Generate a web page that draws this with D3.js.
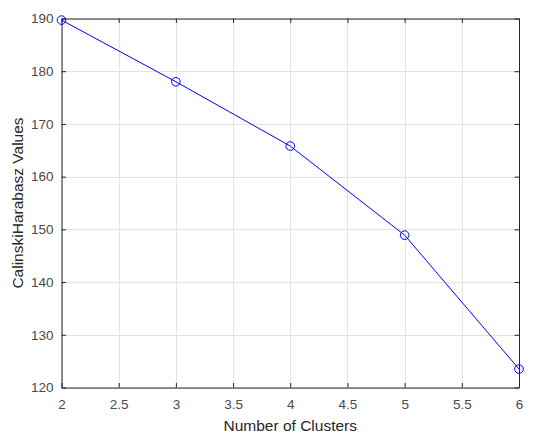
<!DOCTYPE html>
<html><head><meta charset="utf-8">
<script src="https://cdn.jsdelivr.net/npm/d3@7"></script>
<style>body{margin:0;background:#fff;}svg{display:block;font-family:"Liberation Sans",Arial,sans-serif;}</style>
</head><body>
<script>
const clusters = [2, 3, 4, 5, 6];
const chValues = [189.7, 178.0, 165.8, 148.9, 123.5];
const xTicks = [2, 2.5, 3, 3.5, 4, 4.5, 5, 5.5, 6];
const yTicks = [120, 130, 140, 150, 160, 170, 180, 190];

const W = 550, H = 446;
const m = {left: 61.5, top: 18.5, right: 519, bottom: 387.5};
const svg = d3.select("body").append("svg").attr("width", W).attr("height", H);
const x = d3.scaleLinear().domain([2, 6]).range([m.left, m.right]);
const y = d3.scaleLinear().domain([120, 190]).range([m.bottom, m.top]);

// grid
svg.append("g").selectAll("line").data(xTicks).join("line")
  .attr("x1", d => Math.round(x(d)) + 0.5).attr("x2", d => Math.round(x(d)) + 0.5)
  .attr("y1", m.top).attr("y2", m.bottom).attr("stroke", "#e3e3e3").attr("stroke-width", 1);
svg.append("g").selectAll("line").data(yTicks).join("line")
  .attr("y1", d => Math.round(y(d)) + 0.5).attr("y2", d => Math.round(y(d)) + 0.5)
  .attr("x1", m.left).attr("x2", m.right).attr("stroke", "#e3e3e3").attr("stroke-width", 1);

const axisColor = "#262626";
const tl = 4.5;
const xb = d3.axisBottom(x).tickValues(xTicks).tickSizeInner(-tl).tickSizeOuter(0).tickPadding(12).tickFormat(d3.format("~g"));
const xt = d3.axisTop(x).tickValues(xTicks).tickSizeInner(-tl).tickSizeOuter(0).tickFormat("");
const yl = d3.axisLeft(y).tickValues(yTicks).tickSizeInner(-tl).tickSizeOuter(0).tickPadding(8).tickFormat(d3.format("~g"));
const yr = d3.axisRight(y).tickValues(yTicks).tickSizeInner(-tl).tickSizeOuter(0).tickFormat("");

function style(g){
  g.selectAll("path").attr("stroke", axisColor);
  g.selectAll("line").attr("stroke", axisColor);
  g.selectAll("text").attr("fill", "#4a4a4a").style("font-size", "13.5px").style("font-family", '"Liberation Sans",Arial,sans-serif');
}
svg.append("g").attr("transform", `translate(0,${m.bottom})`).call(xb).call(style);
svg.append("g").attr("transform", `translate(0,${m.top})`).call(xt).call(style);
svg.append("g").attr("transform", `translate(${m.left},0)`).call(yl).call(style);
svg.append("g").attr("transform", `translate(${m.right},0)`).call(yr).call(style);

const pts = clusters.map((c, i) => [c, chValues[i]]);
svg.append("path").datum(pts)
  .attr("d", d3.line().x(d => x(d[0])).y(d => y(d[1])))
  .attr("fill", "none").attr("stroke", "#0000ff").attr("stroke-width", 1);
svg.append("g").selectAll("circle").data(pts).join("circle")
  .attr("cx", d => x(d[0])).attr("cy", d => y(d[1])).attr("r", 4.3)
  .attr("fill", "none").attr("stroke", "#0000ff").attr("stroke-width", 1);

svg.append("text").attr("x", (m.left + m.right) / 2).attr("y", 431)
  .attr("text-anchor", "middle").attr("fill", "#262626").style("font-size", "15.5px")
  .text("Number of Clusters");
svg.append("text").attr("transform", `translate(23,${(m.top + m.bottom) / 2}) rotate(-90)`)
  .attr("text-anchor", "middle").attr("fill", "#262626").style("font-size", "15.5px")
  .text("CalinskiHarabasz Values");
</script>
</body></html>
